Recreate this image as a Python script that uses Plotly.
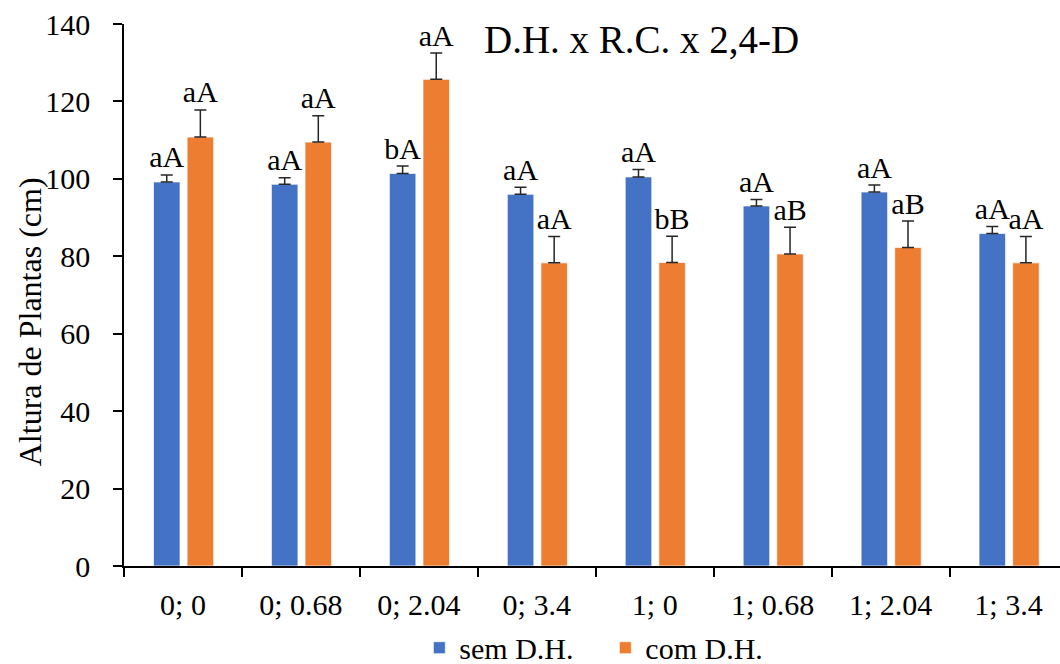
import plotly.graph_objects as go

categories = ["0; 0", "0; 0.68", "0; 2.04", "0; 3.4", "1; 0", "1; 0.68", "1; 2.04", "1; 3.4"]
sem_dh = [99.2, 98.6, 101.4, 96.0, 100.5, 93.0, 96.6, 85.9]
sem_dh_err = [1.8, 1.7, 1.9, 1.8, 1.9, 1.7, 1.8, 1.8]
com_dh = [110.8, 109.5, 125.7, 78.3, 78.4, 80.6, 82.3, 78.3]
com_dh_err = [7.0, 6.8, 6.8, 6.8, 6.8, 6.9, 6.8, 6.8]
sem_labels = ["aA", "aA", "bA", "aA", "aA", "aA", "aA", "aA"]
com_labels = ["aA", "aA", "aA", "aA", "bB", "aB", "aB", "aA"]
y_ticks = [0, 20, 40, 60, 80, 100, 120, 140]

FONT = "Times New Roman, Liberation Serif, serif"
BLUE = "#4472C4"
ORANGE = "#ED7D31"
W = 1060
H = 664
ML, MR, MT, MB = 123.5, 0, 24.3, 97.7

idx = list(range(len(categories)))
bw = 0.225
off_b = -0.25
off_o = 0.035
x_right = -0.5 + (W - ML) / 118.0

fig = go.Figure()
fig.add_trace(go.Bar(
    x=idx, y=sem_dh, name="sem D.H.", width=bw, offset=off_b,
    marker=dict(color=BLUE, line=dict(color="rgba(255,255,255,0.7)", width=1)),
    error_y=dict(type="data", symmetric=False, array=sem_dh_err,
                 arrayminus=[0] * len(sem_dh_err), color="#262626", thickness=1.5, width=6),
))
fig.add_trace(go.Bar(
    x=idx, y=com_dh, name="com D.H.", width=bw, offset=off_o,
    marker=dict(color=ORANGE, line=dict(color="rgba(255,255,255,0.7)", width=1)),
    error_y=dict(type="data", symmetric=False, array=com_dh_err,
                 arrayminus=[0] * len(com_dh_err), color="#262626", thickness=1.5, width=6),
))
fig.add_trace(go.Scatter(
    x=[i + off_b + bw / 2 for i in idx],
    y=[v + e for v, e in zip(sem_dh, sem_dh_err)],
    text=sem_labels, mode="text", textposition="top center",
    textfont=dict(family=FONT, size=30, color="#000"),
    showlegend=False, hoverinfo="skip",
))
fig.add_trace(go.Scatter(
    x=[i + off_o + bw / 2 for i in idx],
    y=[v + e for v, e in zip(com_dh, com_dh_err)],
    text=com_labels, mode="text", textposition="top center",
    textfont=dict(family=FONT, size=30, color="#000"),
    showlegend=False, hoverinfo="skip",
))

ph = H - MT - MB
pw = W - ML - MR

fig.update_layout(
    width=W, height=H,
    margin=dict(l=ML, r=MR, t=MT, b=MB, pad=0, autoexpand=False),
    paper_bgcolor="white", plot_bgcolor="white",
    barmode="overlay",
    font=dict(family=FONT, size=30, color="#000"),
    showlegend=True,
    legend=dict(orientation="h", x=(419 - ML) / pw, xanchor="left",
                y=-(648 - (H - MB)) / ph, yanchor="middle",
                entrywidth=141, entrywidthmode="pixels",
                font=dict(family=FONT, size=30, color="#000"),
                bgcolor="rgba(0,0,0,0)", itemclick=False),
    xaxis=dict(range=[-0.5, x_right], tickmode="array", tickvals=idx, ticktext=categories,
               ticks="", showline=True, linecolor="#000", linewidth=1.5,
               showgrid=False, zeroline=False, ticklabelstandoff=11,
               tickfont=dict(family=FONT, size=30, color="#000"),
               minor=dict(ticks="outside", ticklen=9, tickwidth=1.5, tickcolor="#000",
                          tick0=-0.5, dtick=1, showgrid=False)),
    yaxis=dict(range=[0, 140], tickmode="array", tickvals=y_ticks,
               ticks="outside", ticklen=9, tickwidth=1.5, tickcolor="#000",
               showline=True, linecolor="#000", linewidth=1.5,
               showgrid=False, zeroline=False, ticklabelstandoff=17,
               tickfont=dict(family=FONT, size=30, color="#000")),
    annotations=[
        dict(text="D.H. x R.C. x 2,4-D", xref="paper", yref="paper",
             x=(641 - ML) / pw, y=(H - MB - 40) / ph, xanchor="center", yanchor="middle",
             showarrow=False, font=dict(family=FONT, size=39, color="#000")),
        dict(text="Altura de Plantas (cm)", xref="paper", yref="paper",
             x=(29 - ML) / pw, y=(H - MB - 322) / ph, xanchor="center", yanchor="middle",
             textangle=-90, showarrow=False, font=dict(family=FONT, size=32, color="#000")),
    ],
)

fig.write_html("out.html")
